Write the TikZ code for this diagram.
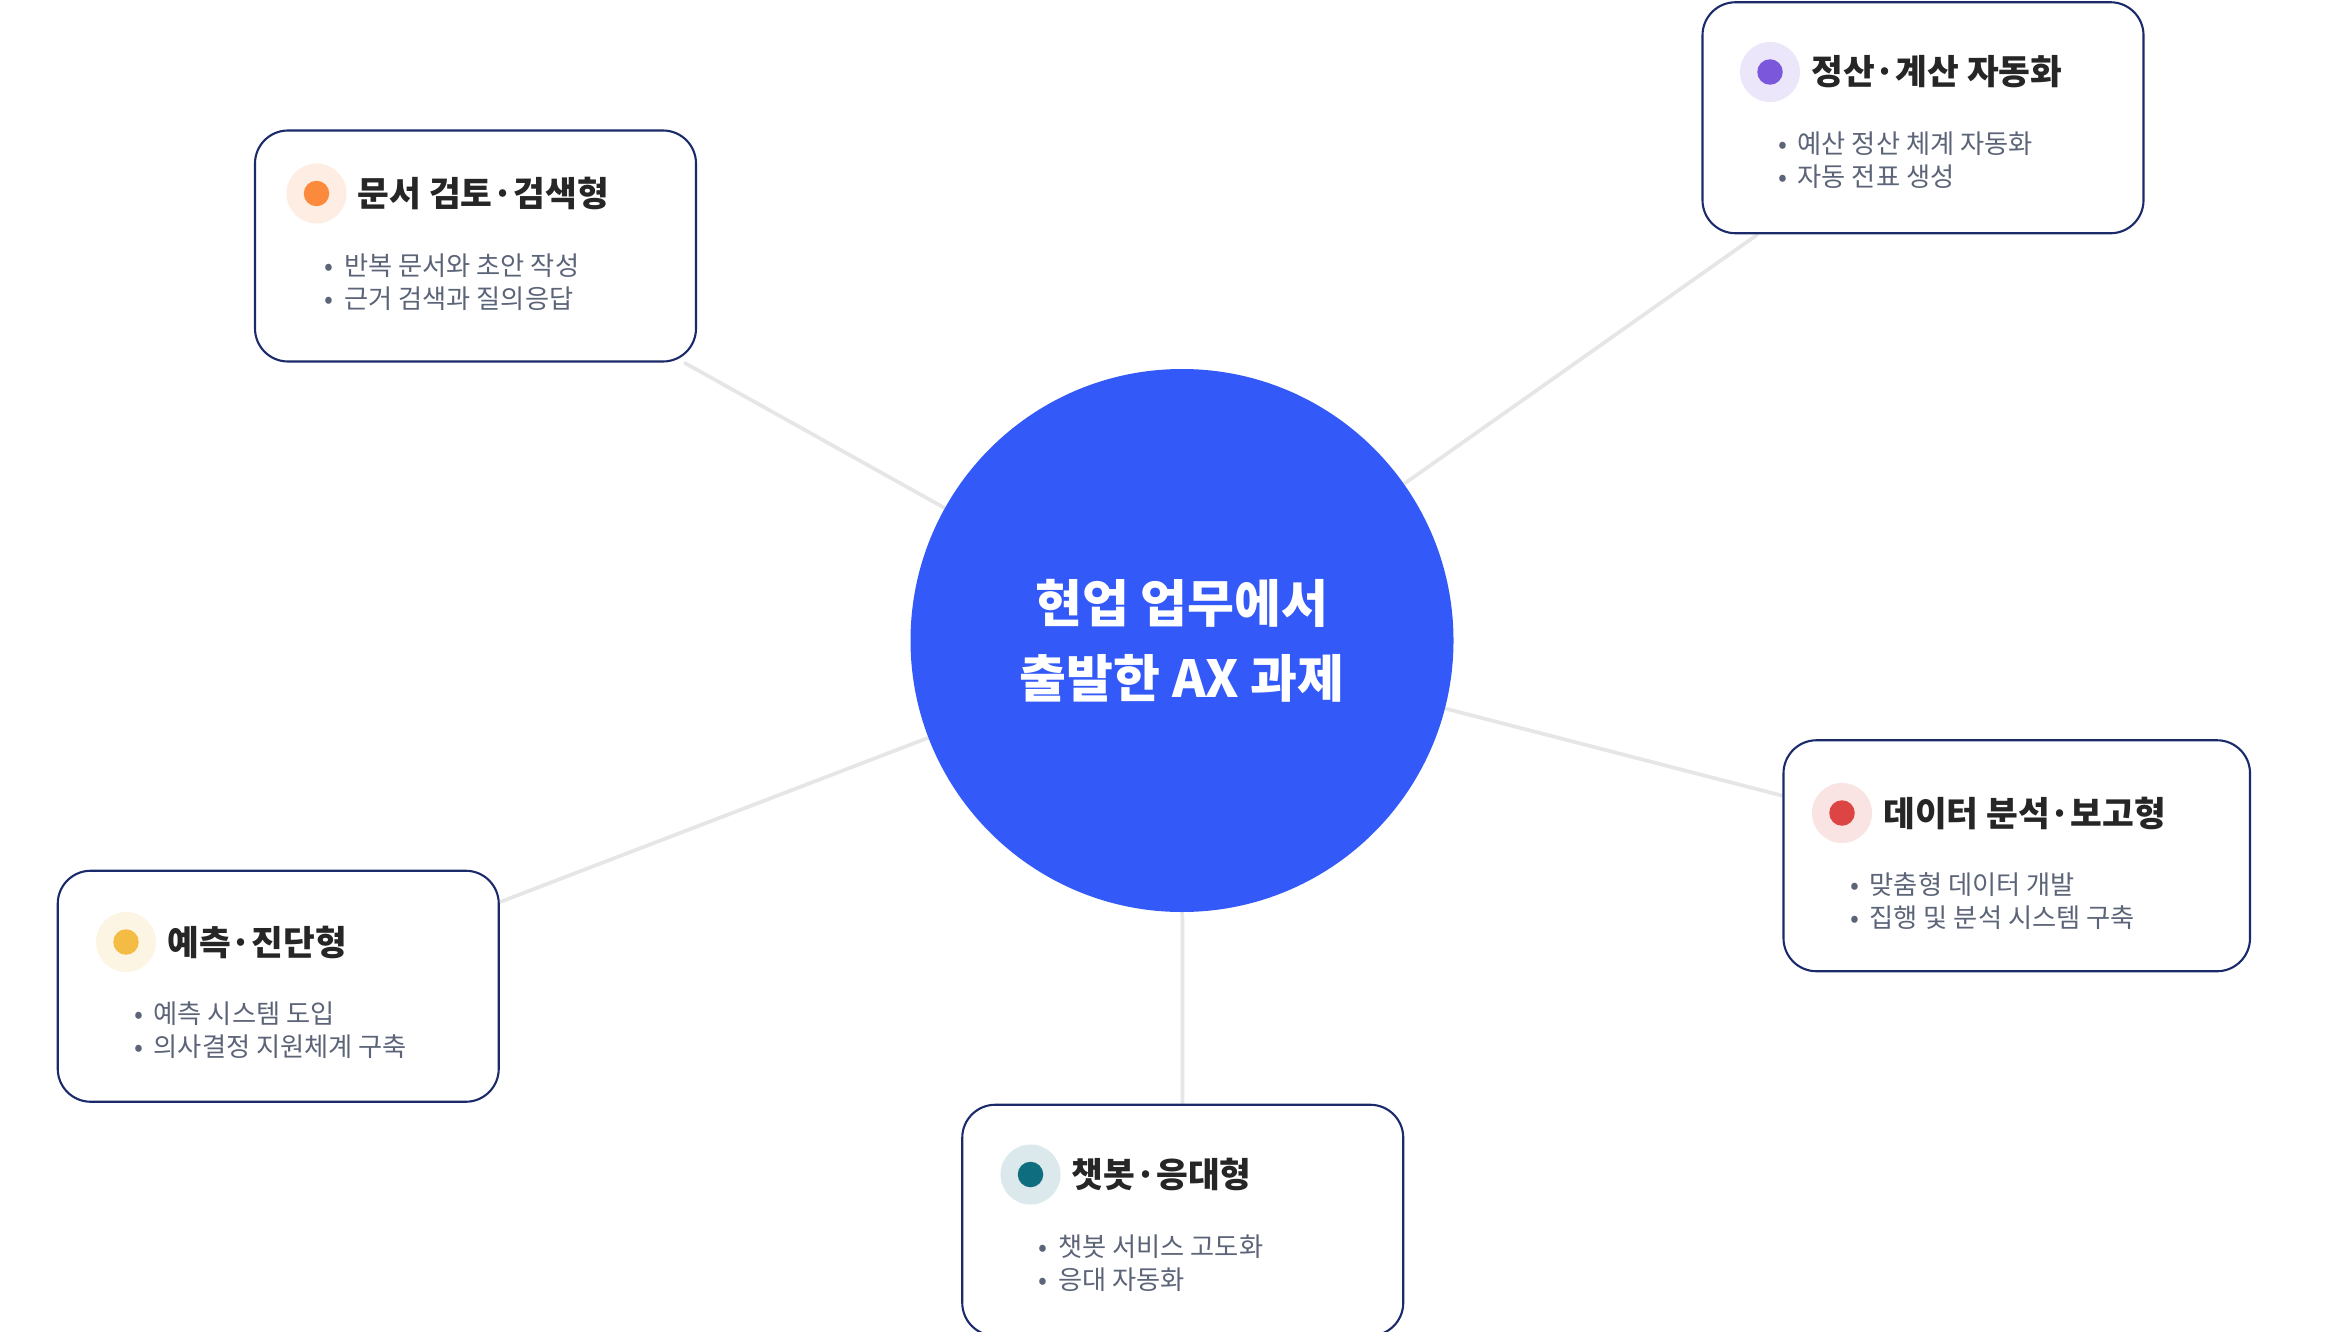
\documentclass[tikz,border=0pt]{standalone}
\usepackage{fontspec}
\setmainfont{Noto Sans CJK KR}
\usetikzlibrary{backgrounds}
\definecolor{hub}{HTML}{335AF8}
\definecolor{navy}{HTML}{1B2A6B}
\definecolor{txt}{HTML}{5C6478}
\definecolor{link}{HTML}{E6E6E6}
\begin{document}
\begin{tikzpicture}[x=1pt,y=-1pt,
  box/.style={draw=navy,line width=1.4pt,rounded corners=22pt,fill=white,minimum width=294pt,minimum height=154pt},
  ttl/.style={anchor=west,font=\bfseries\fontsize{23}{26}\selectfont,text=black!85},
  bl/.style={anchor=west,font=\fontsize{17.5}{22}\selectfont,text=txt,align=left},
  halo/.style={circle,minimum size=40pt,inner sep=0pt},
  dot/.style={circle,minimum size=17pt,inner sep=0pt},
  conn/.style={draw=link,line width=2.5pt}]
\useasboundingbox (0,0) rectangle (1560,888);
\node[circle,fill=hub,minimum size=362pt,inner sep=0pt,align=center,text=white,font=\bfseries\fontsize{34}{50}\selectfont] (c) at (788,427) {현업 업무에서\\출발한 AX 과제};
\node[box] (b1) at (317,164) {};
\node[box] (b2) at (1282,78.5) {};
\node[box,minimum width=311pt] (b3) at (1344.5,570.5) {};
\node[box] (b4) at (185.5,657.5) {};
\node[box] (b5) at (788.5,813.5) {};
\begin{scope}[on background layer]
\foreach \b in {b1,b2,b3,b4,b5} \draw[conn] (c) -- (\b);
\end{scope}
\newcommand\card[8]{%
 \node[halo,fill=#4!15] (h#1) at (#2,#3) {};
 \node[dot,fill=#4] (d#1) at (#2,#3) {};
 \node[ttl] (t#1) at (#2+24,#3) {#5};
 \node[bl] (p#1) at (#2+2,#3+59) {\textbullet\hspace{7pt}#6\\\textbullet\hspace{7pt}#7};
}
\definecolor{c1}{HTML}{FB8A3C}\definecolor{c2}{HTML}{7B57DB}\definecolor{c3}{HTML}{DD4444}
\definecolor{c4}{HTML}{F4BC45}\definecolor{c5}{HTML}{0E6E80}
\card{1}{211}{129}{c1}{문서 검토·검색형}{반복 문서와 초안 작성}{근거 검색과 질의응답}{}
\card{2}{1180}{48}{c2}{정산·계산 자동화}{예산 정산 체계 자동화}{자동 전표 생성}{}
\card{3}{1228}{542}{c3}{데이터 분석·보고형}{맞춤형 데이터 개발}{집행 및 분석 시스템 구축}{}
\card{4}{84}{628}{c4}{예측·진단형}{예측 시스템 도입}{의사결정 지원체계 구축}{}
\card{5}{687}{783}{c5}{챗봇·응대형}{챗봇 서비스 고도화}{응대 자동화}{}
\end{tikzpicture}
\end{document}
